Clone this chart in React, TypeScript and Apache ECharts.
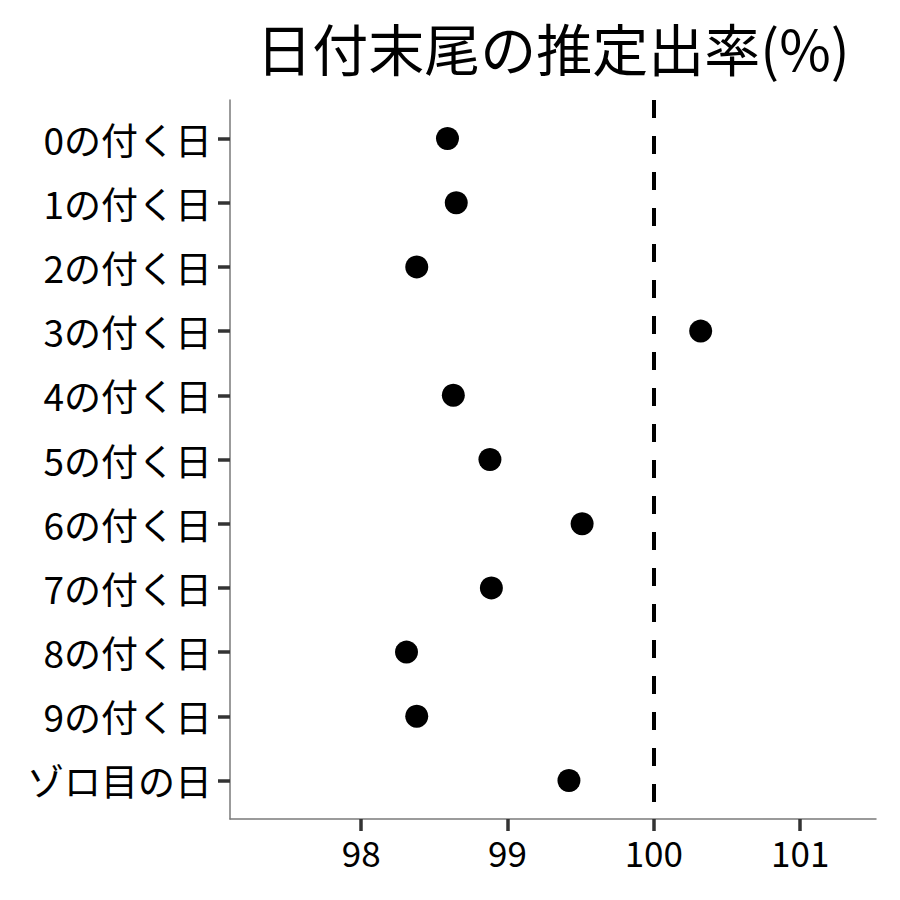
import React, { useEffect, useRef } from "react";
import * as echarts from "echarts";

const categories = [
  "0の付く日",
  "1の付く日",
  "2の付く日",
  "3の付く日",
  "4の付く日",
  "5の付く日",
  "6の付く日",
  "7の付く日",
  "8の付く日",
  "9の付く日",
  "ゾロ目の日",
];
const rates = [98.59, 98.65, 98.38, 100.32, 98.63, 98.88, 99.51, 98.89, 98.31, 98.38, 99.42];
const xTicks = [98, 99, 100, 101];
const referenceRate = 100;
const titleText = "日付末尾の推定出率(%)";

const FONT = "'Noto Sans CJK JP', 'Noto Sans', sans-serif";

export default function App() {
  const ref = useRef<HTMLDivElement>(null);
  useEffect(() => {
    if (!ref.current) return;
    const chart = echarts.init(ref.current, undefined, { renderer: "svg" });
    const positions = categories.map((_, i) => i + 1);
    chart.setOption({
      animation: false,
      backgroundColor: "#ffffff",
      textStyle: { fontFamily: FONT },
      graphic: [
        {
          type: "text",
          x: 553,
          y: 46,
          style: {
            text: titleText,
            fontFamily: FONT,
            fontSize: 56,
            fill: "#000",
            textAlign: "center",
            textVerticalAlign: "middle",
          },
        },
      ],
      grid: { left: 230, right: 24, top: 100, bottom: 81 },
      xAxis: {
        type: "value",
        min: 97.104,
        max: 101.518,
        splitLine: { show: false },
        axisLine: { show: true, lineStyle: { color: "#7a7a7a", width: 1.5 } },
        axisTick: {
          show: true,
          customValues: xTicks,
          length: 12,
          lineStyle: { color: "#333", width: 3.5 },
        },
        axisLabel: {
          customValues: xTicks,
          fontSize: 35,
          color: "#000",
          fontFamily: FONT,
          margin: 15,
          formatter: (v: number) => String(v),
        },
      },
      yAxis: {
        type: "value",
        inverse: true,
        min: 0.4,
        max: 11.6,
        splitLine: { show: false },
        axisLine: { show: true, lineStyle: { color: "#7a7a7a", width: 1.5 } },
        axisTick: {
          show: true,
          customValues: positions,
          length: 12,
          lineStyle: { color: "#333", width: 3.5 },
        },
        axisLabel: {
          customValues: positions,
          fontSize: 37,
          color: "#000",
          fontFamily: FONT,
          margin: 18,
          formatter: (v: number) => categories[Math.round(v) - 1] ?? "",
        },
      },
      series: [
        {
          type: "scatter",
          data: rates.map((r, i) => [r, i + 1]),
          symbol: "circle",
          symbolSize: 23,
          itemStyle: { color: "#000", opacity: 1 },
          silent: true,
          markLine: {
            silent: true,
            symbol: ["none", "none"],
            label: { show: false },
            lineStyle: { color: "#000", width: 4, type: [18, 18], opacity: 1 },
            emphasis: { disabled: true },
            data: [{ xAxis: referenceRate }],
          },
        },
      ],
    });
    return () => chart.dispose();
  }, []);
  return (
    <div
      ref={ref}
      style={{ position: "absolute", left: 0, top: 0, width: 900, height: 900 }}
    />
  );
}
